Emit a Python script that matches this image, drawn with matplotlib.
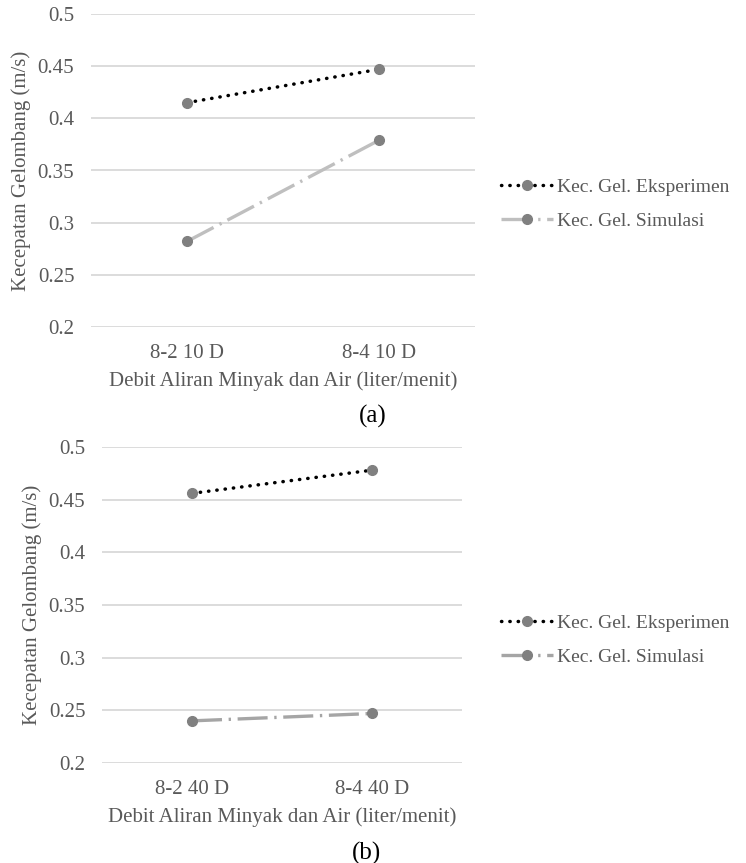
import matplotlib
matplotlib.use('Agg')
import matplotlib.pyplot as plt
import numpy as np

plt.rcParams['font.family'] = ['Liberation Serif', 'DejaVu Serif']

# data
cats_a = ['8-2 10 D', '8-4 10 D']
exp_a = [0.415, 0.447]
sim_a = [0.282, 0.379]

cats_b = ['8-2 40 D', '8-4 40 D']
exp_b = [0.456, 0.478]
sim_b = [0.240, 0.247]

lab_exp = 'Kec. Gel. Eksperimen'
lab_sim = 'Kec. Gel. Simulasi'
ylab = 'Kecepatan Gelombang (m/s)'
xlab = 'Debit Aliran Minyak dan Air (liter/menit)'

txt = '#595959'
W, H = 746, 863


def px_axes(fig, left, right, top, bottom):
    return fig.add_axes([left / W, 1 - bottom / H, (right - left) / W, (bottom - top) / H])


def panel(ax, cats, exp, sim, sim_col, tag, leg_y):
    x = np.arange(len(cats)) + 0.5
    l1, = ax.plot(x, exp, linestyle=(0, (0.1, 2.3)), color='black', lw=2.5,
                  marker='o', ms=7, mfc='#808080', mec='#808080', label=lab_exp,
                  dash_capstyle='round')
    l2, = ax.plot(x, sim, linestyle=(0, (9, 2, 0.7, 2)), color=sim_col, lw=2.4,
                  marker='o', ms=7, mfc='#808080', mec='#808080', label=lab_sim)
    ax.set_xlim(0, len(cats))
    ax.set_ylim(0.2, 0.5)
    ax.set_yticks(np.arange(0.2, 0.501, 0.05))
    ax.set_yticklabels(['0.2', '0.25', '0.3', '0.35', '0.4', '0.45', '0.5'])
    ax.set_xticks(x)
    ax.set_xticklabels(cats)
    ax.grid(axis='y', color='#d9d9d9', lw=1.3)
    ax.set_axisbelow(True)
    for s in ax.spines.values():
        s.set_visible(False)
    ax.tick_params(length=0, colors=txt, labelsize=15, pad=12)
    ax.set_ylabel(ylab, color=txt, fontsize=15, labelpad=5)
    ax.set_xlabel(xlab, color=txt, fontsize=15, labelpad=6)
    ax.text(0.735, -0.285, tag, transform=ax.transAxes, fontsize=18,
            color='black', ha='center', va='center')
    fig.legend(handles=[l1, l2], loc='center left',
               bbox_to_anchor=(497 / W, 1 - leg_y / H), frameon=False,
               fontsize=14, labelcolor=txt, handlelength=2.7,
               handletextpad=0.2, labelspacing=0.85, borderaxespad=0,
               borderpad=0.2)


fig = plt.figure(figsize=(7.46, 8.63), dpi=100)
ax1 = px_axes(fig, 91, 475, 14, 327)
panel(ax1, cats_a, exp_a, sim_a, '#bfbfbf', '(a)', 204)
ax2 = px_axes(fig, 102, 462, 447, 763)
panel(ax2, cats_b, exp_b, sim_b, '#a5a5a5', '(b)', 640)

fig.savefig('out.png', dpi=100)
